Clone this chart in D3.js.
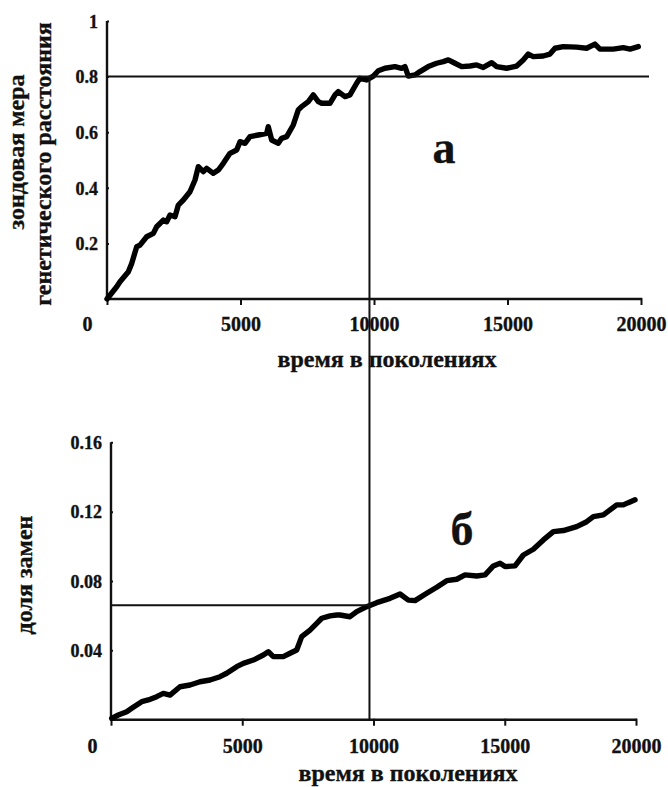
<!DOCTYPE html>
<html><head><meta charset="utf-8">
<script src="https://cdn.jsdelivr.net/npm/d3@7"></script>
<style>
html,body{margin:0;padding:0;background:#fff;}
svg text{font-family:"Liberation Serif","Times New Roman",serif;font-weight:bold;fill:#111;stroke:#111;stroke-width:0.35px;}
</style></head>
<body>
<script>
// ---- data ----
const xTicks = [0, 5000, 10000, 15000, 20000];
const yTicksA = [0.2, 0.4, 0.6, 0.8, 1];
const yTicksB = [0.04, 0.08, 0.12, 0.16];
const xTitle = "время в поколениях";
const yTitleA = ["зондовая мера", "генетического расстояния"];
const yTitleB = "доля замен";
const panelA = "а";
const panelB = "б";
const refGen = 9830;
const refA = 0.8;
const refB = 0.066;

const genA = [0,363,487,800,925,1112,1236,1486,1735,1860,2110,2235,2360,2547,2672,2859,3108,3296,3420,3607,3732,3982,4169,4356,4606,4857,4981,5168,5355,5667,5981,6040,6168,6415,6540,6730,6977,7165,7290,7540,7726,7913,8040,8350,8540,8662,8913,9100,9350,9475,9725,9975,10161,10410,10786,11036,11160,11284,11535,11722,12033,12347,12596,12782,13033,13284,13595,13846,14093,14407,14594,14968,15343,15590,15777,15965,16339,16590,16778,17089,17588,17963,18275,18462,18961,19336,19587,19898];
const valA = [0,0.044,0.062,0.098,0.128,0.188,0.194,0.224,0.236,0.26,0.284,0.278,0.302,0.296,0.338,0.356,0.386,0.428,0.476,0.458,0.47,0.452,0.464,0.488,0.524,0.536,0.566,0.56,0.584,0.59,0.596,0.62,0.572,0.56,0.578,0.584,0.626,0.68,0.692,0.71,0.734,0.71,0.704,0.704,0.734,0.746,0.728,0.734,0.776,0.794,0.788,0.802,0.821,0.83,0.836,0.83,0.836,0.802,0.806,0.818,0.836,0.848,0.854,0.86,0.848,0.836,0.838,0.842,0.833,0.85,0.836,0.83,0.838,0.86,0.881,0.872,0.874,0.881,0.902,0.908,0.906,0.902,0.917,0.899,0.899,0.904,0.899,0.908];

const genB = [27,278,598,789,979,1170,1421,1741,1993,2248,2629,3010,3391,3772,4153,4407,4788,5041,5422,5803,5993,6184,6565,6820,7075,7265,7582,7838,8029,8344,8599,8725,9106,9361,9742,10123,10630,11011,11328,11582,12028,12409,12790,13171,13488,13933,14250,14567,14821,15011,15392,15709,16090,16471,16852,17233,17741,18122,18376,18757,19011,19265,19518,19709,19963];
const valB = [0.0008,0.0027,0.0046,0.0066,0.0085,0.0104,0.0114,0.0133,0.0152,0.0142,0.019,0.02,0.0219,0.0229,0.0248,0.0268,0.0306,0.0325,0.0344,0.0373,0.0392,0.0364,0.0364,0.0383,0.0402,0.0479,0.0517,0.0556,0.0585,0.0599,0.0604,0.0604,0.0594,0.0623,0.0652,0.0675,0.07,0.0725,0.069,0.0687,0.0729,0.0764,0.0802,0.081,0.0835,0.0829,0.0835,0.0887,0.0902,0.0883,0.0887,0.095,0.0983,0.1037,0.1085,0.1091,0.1114,0.1142,0.1171,0.1181,0.121,0.1239,0.1239,0.1252,0.1268];

// ---- drawing ----
const W = 668, H = 787;
const svg = d3.select("body").append("svg").attr("width", W).attr("height", H);

const xA = d3.scaleLinear().domain([0, 20000]).range([107, 641]);
const yA = d3.scaleLinear().domain([0, 1]).range([299, 21]);
const xB = d3.scaleLinear().domain([0, 20000]).range([111, 636]);
const yB = d3.scaleLinear().domain([0, 0.16]).range([719.7, 442.3]);

function drawPanel(x, y, yTicks, yFmt, gens, vals, opts) {
  const g = svg.append("g");
  const xa = g.append("g").attr("transform", `translate(0,${y(0)})`)
    .call(d3.axisBottom(x).tickValues(xTicks).tickSize(6).tickSizeOuter(0).tickFormat(d3.format("d")));
  xa.selectAll(".tick line").attr("stroke", "#111").attr("stroke-width", 2).attr("y1", -1);
  xa.selectAll(".tick text").attr("font-size", 20).attr("dy", 0).attr("y", opts.xLabelY - y(0)).attr("fill", "#111");
  xa.selectAll(".tick text").filter(d => d === 0).attr("dx", opts.zeroShift);
  const ya = g.append("g").attr("transform", `translate(${x(0)},0)`)
    .call(d3.axisLeft(y).tickValues(yTicks).tickSize(6).tickSizeOuter(0).tickFormat(yFmt));
  ya.selectAll(".tick line").attr("stroke", "#111").attr("stroke-width", 2).attr("x2", 2);
  ya.selectAll(".tick text").attr("font-size", 18).attr("x", -9).attr("dy", "0.35em").attr("fill", "#111");
  g.selectAll(".domain").remove();
  g.append("line").attr("x1", x(0) - 1).attr("x2", x(20000) + 1).attr("y1", y(0)).attr("y2", y(0))
    .attr("stroke", "#111").attr("stroke-width", 2.4);
  g.append("line").attr("x1", x(0)).attr("x2", x(0)).attr("y1", y(0) + 1).attr("y2", y(yTicks[yTicks.length - 1]))
    .attr("stroke", "#111").attr("stroke-width", 2.4);
  const pts = gens.map((d, i) => [d, vals[i]]);
  g.append("path").datum(pts)
    .attr("d", d3.line().x(d => x(d[0])).y(d => y(d[1])))
    .attr("fill", "none").attr("stroke", "#000").attr("stroke-width", 5.4)
    .attr("stroke-linejoin", "round").attr("stroke-linecap", "round");
  return g;
}

drawPanel(xA, yA, yTicksA, d => d3.format("")(d), genA, valA, {xLabelY: 331, zeroShift: -20});
drawPanel(xB, yB, yTicksB, d => d3.format(".2f")(d), genB, valB, {xLabelY: 753, zeroShift: -19});

// reference lines
svg.append("line").attr("x1", xA(0)).attr("x2", xA(20300)).attr("y1", yA(refA)).attr("y2", yA(refA))
  .attr("stroke", "#111").attr("stroke-width", 2);
svg.append("line").attr("x1", xB(0)).attr("x2", xA(refGen)).attr("y1", yB(refB)).attr("y2", yB(refB))
  .attr("stroke", "#111").attr("stroke-width", 2);
svg.append("line").attr("x1", xA(refGen)).attr("x2", xA(refGen)).attr("y1", yA(refA)).attr("y2", yB(0))
  .attr("stroke", "#111").attr("stroke-width", 2);

// axis titles
svg.append("text").attr("x", 387).attr("y", 367).attr("text-anchor", "middle").attr("font-size", 24).text(xTitle);
svg.append("text").attr("x", 408).attr("y", 781).attr("text-anchor", "middle").attr("font-size", 24).text(xTitle);
svg.append("text").attr("transform", "translate(24,152) rotate(-90)").attr("text-anchor", "middle").attr("font-size", 24).text(yTitleA[0]);
svg.append("text").attr("transform", "translate(51,164) rotate(-90)").attr("text-anchor", "middle").attr("font-size", 24).text(yTitleA[1]);
svg.append("text").attr("transform", "translate(32,575) rotate(-90)").attr("text-anchor", "middle").attr("font-size", 24).text(yTitleB);

// panel letters
svg.append("text").attr("x", 444).attr("y", 163).attr("text-anchor", "middle").attr("font-size", 46).text(panelA);
svg.append("text").attr("x", 462).attr("y", 545).attr("text-anchor", "middle").attr("font-size", 46).text(panelB);
</script>
</body></html>
